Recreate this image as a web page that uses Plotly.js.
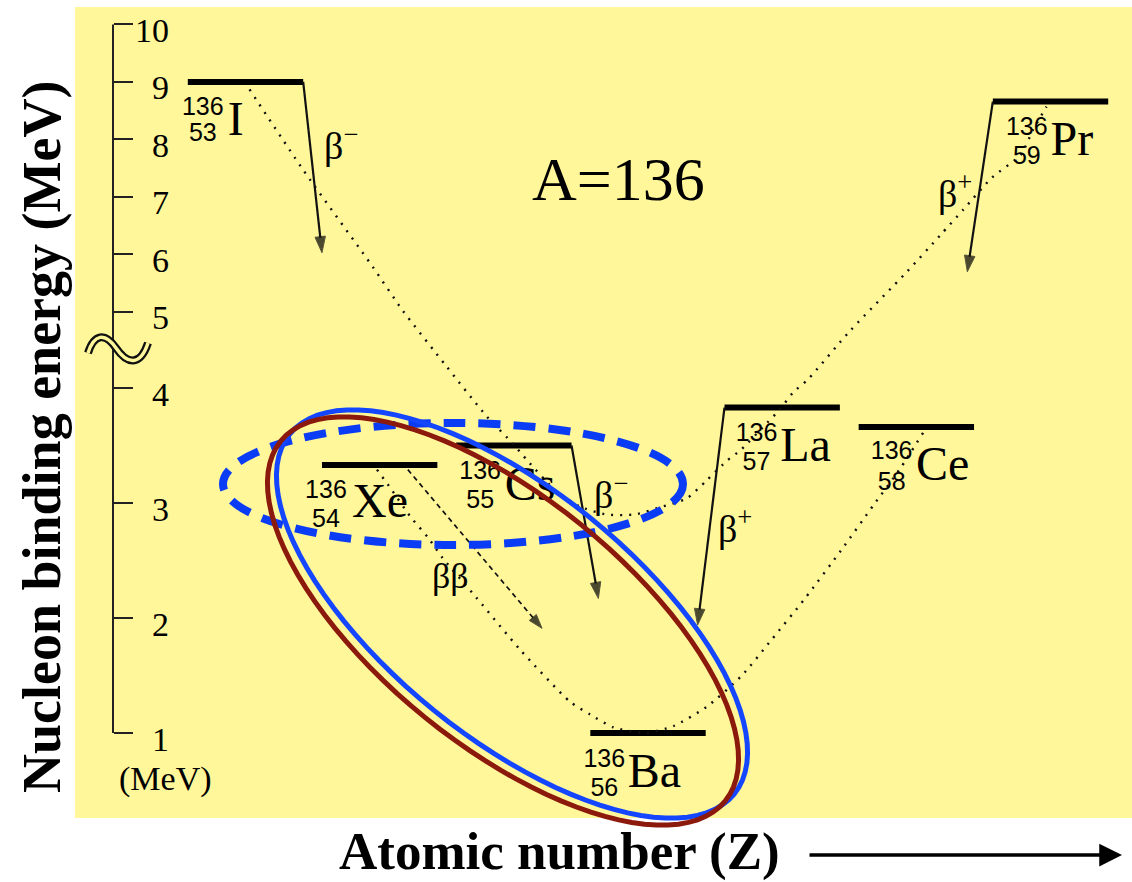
<!DOCTYPE html>
<html><head><meta charset="utf-8">
<script src="https://cdn.plot.ly/plotly-3.0.1.min.js"></script>
<style>html,body{margin:0;padding:0;background:#fff}</style>
</head><body><div id="chart" style="width:1132px;height:882px"></div>
<script>
// ---------- data ----------
const atomicNumber  = [53, 54, 55, 56, 57, 58, 59];
const element       = ['I', 'Xe', 'Cs', 'Ba', 'La', 'Ce', 'Pr'];
const massNumber    = ['136', '136', '136', '136', '136', '136', '136'];
const bindingEnergy = [9.00, 3.33, 3.50, 1.00, 3.83, 3.66, 8.66];   // MeV (schematic scale)

const tickEnergy = [1, 2, 3, 4, 5, 6, 7, 8, 9, 10];
const tickText   = ['1', '2', '3', '4', '5', '6', '7', '8', '9', '10'];

// odd-odd mass parabola (I, Cs, La, Pr)
const oddOddZ = [53.03, 53.43, 53.95, 54.17, 54.50, 54.80, 54.99, 55.10, 55.31, 55.49, 55.69, 55.90, 56.11, 56.29, 56.44, 56.59, 56.69, 56.89, 56.98, 57.08, 57.19, 57.51, 57.93, 58.18, 58.35, 58.56, 58.78, 58.87, 58.97];
const oddOddE = [8.87, 7.47, 5.78, 5.03, 4.28, 3.75, 3.52, 3.37, 3.11, 2.97, 2.90, 2.90, 2.97, 3.04, 3.20, 3.37, 3.46, 3.70, 3.81, 3.96, 4.11, 4.76, 5.70, 6.34, 6.78, 7.33, 7.74, 8.17, 8.57];

// even-even mass parabola (Xe, Ba, Ce)
const evenEvenZ = [53.98, 54.08, 54.23, 54.36, 54.47, 54.69, 55.05, 55.42, 55.57, 55.74, 55.98, 56.19, 56.44, 56.70, 56.92, 57.17, 57.44, 57.68, 57.88, 58.05];
const evenEvenE = [3.29, 3.13, 2.88, 2.70, 2.52, 2.22, 1.72, 1.27, 1.16, 1.05, 1.00, 1.06, 1.23, 1.50, 1.81, 2.17, 2.59, 2.98, 3.30, 3.61];

// single beta decays
const decayParentZ = [53, 55, 57, 59];
const decayKind    = ['minus', 'minus', 'plus', 'plus'];
const decayLabel   = ['β<sup>−</sup>', 'β<sup>−</sup>', 'β<sup>+</sup>', 'β<sup>+</sup>'];
const decayEndZ    = [53.57, 55.63, 56.37, 58.38];
const decayEndE    = [6.03, 2.17, 1.94, 5.70];

// double beta decay Xe -> Ba
const doubleBetaZ = [54.21, 55.21];
const doubleBetaE = [3.29, 1.91];

// ---------- geometry / style ----------
const L = 75, T = 7, W = 1057, H = 811;
const Z0PX = 245.5, PXZ = 134.17, E1PX = 733, PXU = 115;
const HALF = 0.43;
const xr = [53 - (Z0PX - L) / PXZ, 53 + (L + W - Z0PX) / PXZ];
const yr = [-(T + H - E1PX) / PXU, (E1PX - T) / PXU];

function f(E) { // broken (schematic) energy scale
  if (E <= 4) return E - 1;
  if (E <= 5) return 3 + (E - 4) * 0.661;
  return 3.661 + (E - 5) * 0.5;
}
const pX = p => (p - L) / W;            // pixel -> paper
const pY = p => (T + H - p) / H;
const uToPY = u => (u - yr[0]) / (yr[1] - yr[0]);

const serif = 'Liberation Serif, Times New Roman, serif';
const sans  = 'Liberation Sans Narrow, Liberation Sans, Arial, sans-serif';

const labelStyle = {
  numDx: [15, 4, 24, 14, 32, 33, 34],
  supDy: [27, 27, 27, 28, 27, 26, 27],
  subDy: [53, 56, 56, 57, 56, 57, 56],
  symDx: [48, 58, 74, 64, 81, 84, 79],
  symDy: [41, 40, 42, 42, 41, 41, 41]
};
const betaLabelPx = [[322, 143], [592, 492], [716, 526], [936, 191]];
const bbLabelPx = [430, 576];

// ---------- traces ----------
const traces = [];
const barX = [], barY = [];
atomicNumber.forEach((z, i) => {
  barX.push(z - HALF, z + HALF, null);
  barY.push(f(bindingEnergy[i]), f(bindingEnergy[i]), null);
});
traces.push({x: barX, y: barY, mode: 'lines', line: {color: '#000', width: 6}, hoverinfo: 'skip'});

traces.push({x: oddOddZ, y: oddOddE.map(f), mode: 'lines',
  line: {color: '#111', width: 2.4, dash: '2px,7px', shape: 'spline', smoothing: 0.6}, hoverinfo: 'skip'});
traces.push({x: evenEvenZ, y: evenEvenE.map(f), mode: 'lines',
  line: {color: '#111', width: 2.4, dash: '2px,7px', shape: 'spline', smoothing: 0.6}, hoverinfo: 'skip'});

decayParentZ.forEach((z, i) => {
  const idx = atomicNumber.indexOf(z);
  const tailZ = decayKind[i] === 'minus' ? z + HALF : z - HALF;
  traces.push({x: [tailZ, decayEndZ[i]], y: [f(bindingEnergy[idx]), f(decayEndE[i])],
    mode: 'lines+markers', line: {color: '#111', width: 2.2},
    marker: {symbol: 'arrow', size: [0, 17], angleref: 'previous', color: '#000'}, hoverinfo: 'skip'});
});
traces.push({x: doubleBetaZ, y: doubleBetaE.map(f), mode: 'lines+markers',
  line: {color: '#111', width: 1.7, dash: '5px,4px'},
  marker: {symbol: 'arrow', size: [0, 15], angleref: 'previous', color: '#000'}, hoverinfo: 'skip'});

// isotope labels
const lx = (i, dx) => atomicNumber[i] - HALF + dx / PXZ;
const ly = (i, dy) => f(bindingEnergy[i]) - dy / PXU;
traces.push({x: atomicNumber.map((z, i) => lx(i, labelStyle.numDx[i])),
  y: atomicNumber.map((z, i) => ly(i, labelStyle.supDy[i])),
  text: massNumber, mode: 'text', textposition: 'middle center', cliponaxis: false,
  textfont: {family: sans, size: 25, color: '#000'}, hoverinfo: 'skip'});
traces.push({x: atomicNumber.map((z, i) => lx(i, labelStyle.numDx[i])),
  y: atomicNumber.map((z, i) => ly(i, labelStyle.subDy[i])),
  text: atomicNumber.map(String), mode: 'text', textposition: 'middle center', cliponaxis: false,
  textfont: {family: sans, size: 25, color: '#000'}, hoverinfo: 'skip'});
traces.push({x: atomicNumber.map((z, i) => lx(i, labelStyle.symDx[i])),
  y: atomicNumber.map((z, i) => ly(i, labelStyle.symDy[i])),
  text: element, mode: 'text', textposition: 'middle center', cliponaxis: false,
  textfont: {family: serif, size: 48, color: '#000'}, hoverinfo: 'skip'});

// ---------- shapes ----------
function ellipsePath(cx, cy, a, b, deg) {
  const t = deg * Math.PI / 180, c = Math.cos(t), s = Math.sin(t);
  let d = '';
  for (let k = 0; k <= 96; k++) {
    const th = 2 * Math.PI * k / 96;
    const ex = a * Math.cos(th), ey = b * Math.sin(th);
    const x = cx + ex * c - ey * s, y = cy + ex * s + ey * c;
    d += (k === 0 ? 'M' : 'L') + pX(x).toFixed(5) + ',' + pY(y).toFixed(5);
  }
  return d + 'Z';
}
const sq = [[88, 353], [94, 334], [105, 332], [116, 348], [127, 364], [140, 367], [148, 343]];
const sqPath = 'M' + pX(sq[0][0]) + ',' + pY(sq[0][1]) +
  'C' + sq.slice(1, 4).map(p => pX(p[0]) + ',' + pY(p[1])).join(' ') +
  'C' + sq.slice(4, 7).map(p => pX(p[0]) + ',' + pY(p[1])).join(' ');
const axisX = pX(113);

const shapes = [
  {type: 'line', xref: 'paper', yref: 'paper', x0: axisX, x1: axisX,
    y0: uToPY(f(tickEnergy[0])), y1: uToPY(f(tickEnergy[tickEnergy.length - 1])),
    line: {color: '#222', width: 2}},
  {type: 'path', xref: 'paper', yref: 'paper', path: sqPath, line: {color: '#111', width: 8}},
  {type: 'path', xref: 'paper', yref: 'paper', path: sqPath, line: {color: '#FFF79A', width: 3.5}},
  {type: 'circle', xref: 'paper', yref: 'paper', layer: 'above',
    x0: pX(223), x1: pX(683), y0: pY(545), y1: pY(423),
    line: {color: '#0A3CF5', width: 8, dash: '22px,13px'}},
  {type: 'path', xref: 'paper', yref: 'paper', layer: 'above', path: ellipsePath(512, 614, 286, 124, 39),
    line: {color: '#1446FF', width: 5}},
  {type: 'path', xref: 'paper', yref: 'paper', layer: 'above', path: ellipsePath(503, 621, 286, 124, 39),
    line: {color: '#8C1A0C', width: 5}}
];

// ---------- annotations ----------
const ann = [];
const A = (o) => Object.assign({xref: 'paper', yref: 'paper', showarrow: false,
  xanchor: 'center', yanchor: 'middle'}, o);
tickEnergy.forEach((e, i) => ann.push(A({yref: 'y', x: pX(171), y: f(e), yshift: -6,
  xanchor: 'right', text: tickText[i], font: {family: serif, size: 34, color: '#000'}})));
ann.push(A({x: pX(165), y: pY(779), text: '(MeV)', font: {family: serif, size: 34, color: '#000'}}));
ann.push(A({x: pX(618), y: pY(179), text: 'A=136', font: {family: serif, size: 62, color: '#000'}}));
decayLabel.forEach((t, i) => ann.push(A({x: pX(betaLabelPx[i][0]), y: pY(betaLabelPx[i][1]),
  xanchor: 'left', text: t, font: {family: serif, size: 38, color: '#000'}})));
ann.push(A({x: pX(bbLabelPx[0]), y: pY(bbLabelPx[1]), xanchor: 'left', text: 'ββ',
  font: {family: serif, size: 36, color: '#000'}}));
ann.push(A({x: pX(42), y: pY(437), textangle: -90, text: '<b>Nucleon binding energy (MeV)</b>',
  font: {family: serif, size: 54, color: '#000'}}));
ann.push(A({x: pX(559), y: pY(851), text: '<b>Atomic number (Z)</b>',
  font: {family: serif, size: 53, color: '#000'}}));
ann.push(A({x: pX(1122), y: pY(855), ax: -314, ay: 0, text: '', showarrow: true,
  arrowhead: 2, arrowsize: 1.3, arrowwidth: 3.5, arrowcolor: '#000', standoff: 0}));

const layout = {
  width: 1132, height: 882,
  margin: {l: L, r: 1132 - L - W, t: T, b: 882 - T - H, pad: 0},
  paper_bgcolor: '#FFFFFF', plot_bgcolor: '#FFF79A',
  showlegend: false,
  xaxis: {range: xr, visible: false, fixedrange: true},
  yaxis: {range: yr, anchor: 'free', position: axisX, side: 'left',
    tickvals: tickEnergy.map(f), ticktext: tickText, ticks: 'inside', ticklen: 19, tickwidth: 2,
    tickcolor: '#222', showticklabels: false, showgrid: false, zeroline: false, showline: false,
    fixedrange: true},
  shapes: shapes,
  annotations: ann
};
Plotly.newPlot('chart', traces, layout, {staticPlot: true});
</script></body></html>
